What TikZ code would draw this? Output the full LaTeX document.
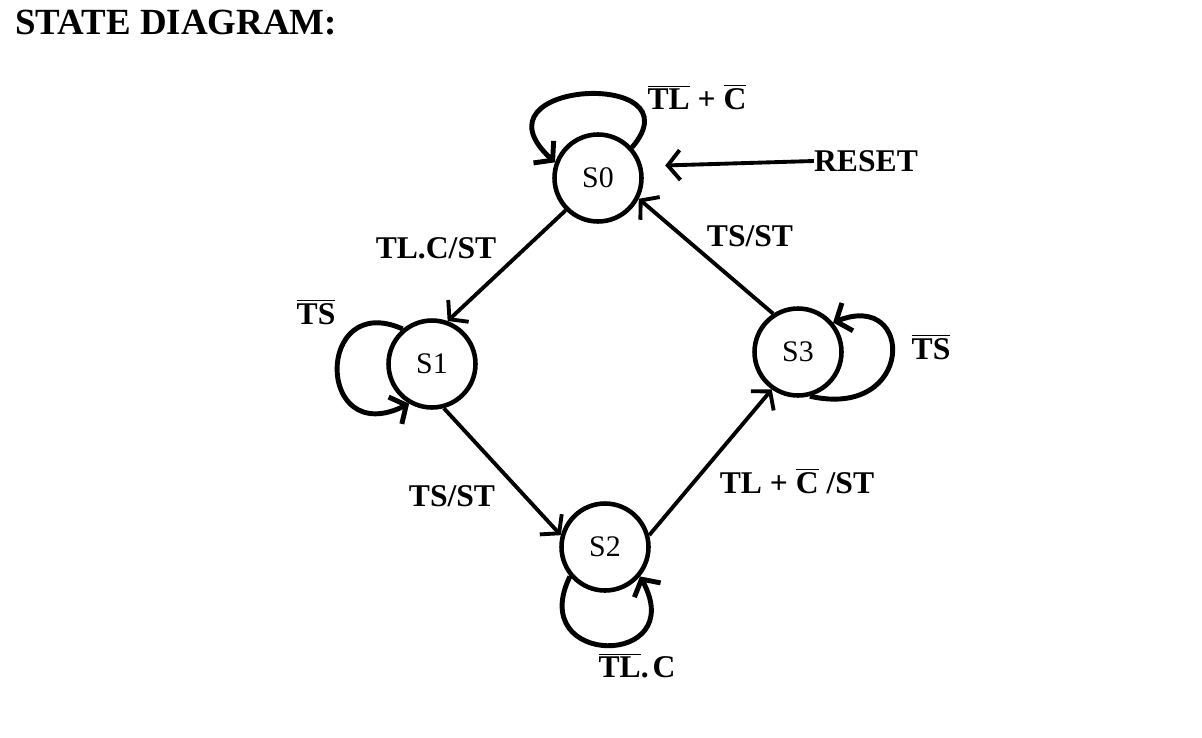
\documentclass[tikz,border=0pt]{standalone}
\usepackage{fontspec}
\setmainfont{Liberation Serif}
\usetikzlibrary{arrows.meta,positioning}
\newcommand{\ovl}[1]{$\overline{\mbox{#1}}$}

\begin{document}
\begin{tikzpicture}[x=0.02cm,y=-0.02cm,
  state/.style={draw,circle,line width=2.6pt,minimum size=1.74cm,inner sep=0pt,font=\fontsize{17}{20}\selectfont},
  lbl/.style={inner sep=0pt,font=\fontsize{18}{21}\selectfont\bfseries},
  trans/.style={line width=2.2pt,-{Straight Barb[length=7pt,width=17pt]}},
  selfloop/.style={line width=2.8pt,-{Straight Barb[length=7pt,width=17pt]}}]
\useasboundingbox (0,0) rectangle (1202,737);
\node[lbl,font=\fontsize{21}{25}\selectfont\bfseries,anchor=base west] (title) at (15,34) {STATE DIAGRAM:};
\node[state] (S0) at (598,178) {S0};
\node[state] (S1) at (432,364) {S1};
\node[state] (S2) at (605,547) {S2};
\node[state] (S3) at (798,352) {S3};
\node[lbl] (reset) at (866,161) {RESET};
\node[lbl] (l00) at (697,97) {\ovl{TL} + \ovl{C}};
\node[lbl] (l01) at (436,248) {TL.C/ST};
\node[lbl] (l30) at (750,236) {TS/ST};
\node[lbl] (l11) at (316,312) {\ovl{TS}};
\node[lbl] (l33) at (931,347) {\ovl{TS}};
\node[lbl] (l12) at (452,496) {TS/ST};
\node[lbl] (l23) at (797,481) {TL + \ovl{C} /ST};
\node[lbl] (l22) at (637,666) {\ovl{TL}.\hspace{0.12em}C};
\draw[trans] (S0.225) -- (S1.70);
\draw[trans] (S1.285) -- (S2.165);
\draw[trans] (S2.15) -- (S3.235);
\draw[trans] (S3.123) -- (S0.333);
\draw[trans,shorten >=0.46cm] (reset.west) -- (S0.15);
\draw[selfloop] (S0.42) .. controls (700,68) and (465,80) .. (S0.160);
\draw[selfloop] (S1.130) .. controls (315,290) and (315,450) .. (S1.240);
\draw[selfloop] (S2.220) .. controls (525,668) and (690,668) .. (S2.320);
\draw[selfloop] (S3.285) .. controls (915,420) and (915,290) .. (S3.40);
\end{tikzpicture}
\end{document}
